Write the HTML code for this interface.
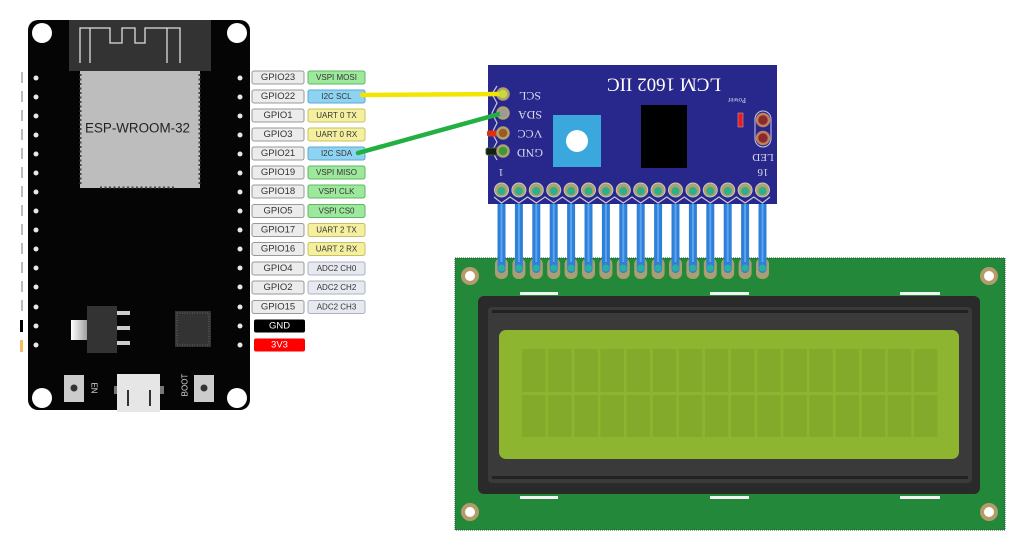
<!DOCTYPE html>
<html><head><meta charset="utf-8"><style>
html,body{margin:0;padding:0;background:#fff;}
svg{display:block;}
text{font-family:"Liberation Sans",sans-serif;}
.g{font-size:9.5px;fill:#333;text-anchor:middle;dominant-baseline:central;}
.f{font-size:8px;fill:#333;text-anchor:middle;dominant-baseline:central;}
.s{font-family:"Liberation Serif",serif;fill:#dcdcec;text-anchor:middle;dominant-baseline:central;}
</style></head><body>
<svg width="1024" height="538" viewBox="0 0 1024 538" xmlns="http://www.w3.org/2000/svg">
<rect width="1024" height="538" fill="#fff"/>

<!-- left truncated label marks -->
<g fill="#bbb">
<rect x="21" y="72" width="2" height="11"/><rect x="21" y="91" width="2" height="11"/><rect x="21" y="110" width="2" height="11"/><rect x="21" y="129" width="2" height="11"/><rect x="21" y="148" width="2" height="11"/><rect x="21" y="167" width="2" height="11"/><rect x="21" y="186" width="2" height="11"/><rect x="21" y="205" width="2" height="11"/><rect x="21" y="224" width="2" height="11"/><rect x="21" y="243" width="2" height="11"/><rect x="21" y="262" width="2" height="11"/><rect x="21" y="281" width="2" height="11"/><rect x="21" y="300" width="2" height="11"/>
</g>
<rect x="20" y="320" width="3" height="12" fill="#000"/>
<rect x="20" y="340" width="3" height="12" fill="#f0c060"/>

<!-- ESP32 board -->
<rect x="28" y="20" width="222" height="390" rx="10" fill="#050505"/>
<rect x="69" y="20" width="142" height="51" fill="#333"/>
<polyline points="80,63 80,28 110,28 110,43 122,43 122,28 135,28 135,43 145,43 145,28 180,28 180,63" fill="none" stroke="#ddd" stroke-width="1.3"/>
<line x1="167" y1="28" x2="167" y2="63" stroke="#ddd" stroke-width="1.3"/>
<line x1="90" y1="28" x2="90" y2="63" stroke="#ddd" stroke-width="1.3"/>
<rect x="80" y="71" width="120" height="117" fill="#bdbdbd"/>
<line x1="80.5" y1="74" x2="80.5" y2="184" stroke="#444" stroke-width="2" stroke-dasharray="2,2.5"/>
<line x1="199.5" y1="74" x2="199.5" y2="184" stroke="#444" stroke-width="2" stroke-dasharray="2,2.5"/>
<line x1="100" y1="187.5" x2="175" y2="187.5" stroke="#444" stroke-width="2" stroke-dasharray="2,2.5"/>
<text x="85" y="128" font-size="13.5" fill="#222" textLength="105" lengthAdjust="spacingAndGlyphs" dominant-baseline="central">ESP-WROOM-32</text>
<circle cx="42" cy="33" r="10" fill="#fff"/>
<circle cx="237" cy="33" r="10" fill="#fff"/>
<circle cx="42" cy="398" r="10" fill="#fff"/>
<circle cx="237" cy="398" r="10" fill="#fff"/>
<g fill="#e8e8e8">
<circle cx="36" cy="78" r="2.5"/><circle cx="36" cy="97" r="2.5"/><circle cx="36" cy="116" r="2.5"/><circle cx="36" cy="135" r="2.5"/><circle cx="36" cy="154" r="2.5"/><circle cx="36" cy="173" r="2.5"/><circle cx="36" cy="192" r="2.5"/><circle cx="36" cy="211" r="2.5"/><circle cx="36" cy="230" r="2.5"/><circle cx="36" cy="249" r="2.5"/><circle cx="36" cy="268" r="2.5"/><circle cx="36" cy="287" r="2.5"/><circle cx="36" cy="307" r="2.5"/><circle cx="36" cy="326" r="2.5"/><circle cx="36" cy="345" r="2.5"/>
<circle cx="240" cy="78" r="2.5"/><circle cx="240" cy="97" r="2.5"/><circle cx="240" cy="116" r="2.5"/><circle cx="240" cy="135" r="2.5"/><circle cx="240" cy="154" r="2.5"/><circle cx="240" cy="173" r="2.5"/><circle cx="240" cy="192" r="2.5"/><circle cx="240" cy="211" r="2.5"/><circle cx="240" cy="230" r="2.5"/><circle cx="240" cy="249" r="2.5"/><circle cx="240" cy="268" r="2.5"/><circle cx="240" cy="287" r="2.5"/><circle cx="240" cy="307" r="2.5"/><circle cx="240" cy="326" r="2.5"/><circle cx="240" cy="345" r="2.5"/>
</g>
<!-- regulator -->
<defs><linearGradient id="tab" x1="0" x2="1"><stop offset="0" stop-color="#fff"/><stop offset="1" stop-color="#999"/></linearGradient></defs>
<rect x="71" y="320" width="17" height="20" fill="url(#tab)"/>
<rect x="87" y="306" width="30" height="47" fill="#333"/>
<rect x="117" y="311" width="13" height="4" fill="#ccc"/>
<rect x="117" y="326" width="13" height="4" fill="#ccc"/>
<rect x="117" y="341" width="13" height="4" fill="#ccc"/>
<!-- chip -->
<rect x="175" y="311" width="36" height="36" fill="#333"/>
<rect x="177" y="313" width="32" height="32" fill="none" stroke="#777" stroke-width="0.8" stroke-dasharray="1,1.5"/>
<!-- EN / USB / BOOT -->
<rect x="64" y="375" width="20" height="27" fill="#ccc"/>
<circle cx="74" cy="388" r="3.5" fill="#333"/>
<text x="94" y="388" font-size="8" fill="#ddd" text-anchor="middle" dominant-baseline="central" transform="rotate(90 94 388)">EN</text>
<rect x="114" y="386" width="4" height="8" fill="#777"/>
<rect x="160" y="386" width="4" height="8" fill="#777"/>
<rect x="117" y="374" width="43" height="38" fill="#e6e6e6"/>
<rect x="127" y="390" width="2" height="16" fill="#333"/>
<rect x="149" y="390" width="2" height="16" fill="#333"/>
<text x="185" y="385" font-size="8" fill="#ddd" text-anchor="middle" dominant-baseline="central" transform="rotate(-90 185 385)">BOOT</text>
<rect x="194" y="375" width="20" height="27" fill="#ccc"/>
<circle cx="204" cy="388" r="3.5" fill="#333"/>

<!-- pin labels -->
<g stroke-width="1">
<rect x="252" y="71" width="52" height="13" rx="2" fill="#ececec" stroke="#999"/><text class="g" x="278" y="77.5">GPIO23</text>
<rect x="308" y="71" width="57" height="13" rx="2" fill="#9ee89e" stroke="#5cb85c"/><text class="f" x="336.5" y="77.5">VSPI MOSI</text>
<rect x="252" y="90" width="52" height="13" rx="2" fill="#ececec" stroke="#999"/><text class="g" x="278" y="96.5">GPIO22</text>
<rect x="308" y="90" width="57" height="13" rx="2" fill="#8ed4f2" stroke="#5aa8d0"/><text class="f" x="336.5" y="96.5">I2C SCL</text>
<rect x="252" y="109" width="52" height="13" rx="2" fill="#ececec" stroke="#999"/><text class="g" x="278" y="115.5">GPIO1</text>
<rect x="308" y="109" width="57" height="13" rx="2" fill="#f4f0a0" stroke="#c8c060"/><text class="f" x="336.5" y="115.5">UART 0 TX</text>
<rect x="252" y="128" width="52" height="13" rx="2" fill="#ececec" stroke="#999"/><text class="g" x="278" y="134.5">GPIO3</text>
<rect x="308" y="128" width="57" height="13" rx="2" fill="#f4f0a0" stroke="#c8c060"/><text class="f" x="336.5" y="134.5">UART 0 RX</text>
<rect x="252" y="147" width="52" height="13" rx="2" fill="#ececec" stroke="#999"/><text class="g" x="278" y="153.5">GPIO21</text>
<rect x="308" y="147" width="57" height="13" rx="2" fill="#8ed4f2" stroke="#5aa8d0"/><text class="f" x="336.5" y="153.5">I2C SDA</text>
<rect x="252" y="166" width="52" height="13" rx="2" fill="#ececec" stroke="#999"/><text class="g" x="278" y="172.5">GPIO19</text>
<rect x="308" y="166" width="57" height="13" rx="2" fill="#9ee89e" stroke="#5cb85c"/><text class="f" x="336.5" y="172.5">VSPI MISO</text>
<rect x="252" y="185" width="52" height="13" rx="2" fill="#ececec" stroke="#999"/><text class="g" x="278" y="191.5">GPIO18</text>
<rect x="308" y="185" width="57" height="13" rx="2" fill="#9ee89e" stroke="#5cb85c"/><text class="f" x="336.5" y="191.5">VSPI CLK</text>
<rect x="252" y="204.5" width="52" height="13" rx="2" fill="#ececec" stroke="#999"/><text class="g" x="278" y="211">GPIO5</text>
<rect x="308" y="204.5" width="57" height="13" rx="2" fill="#9ee89e" stroke="#5cb85c"/><text class="f" x="336.5" y="211">VSPI CS0</text>
<rect x="252" y="223.5" width="52" height="13" rx="2" fill="#ececec" stroke="#999"/><text class="g" x="278" y="230">GPIO17</text>
<rect x="308" y="223.5" width="57" height="13" rx="2" fill="#f4f0a0" stroke="#c8c060"/><text class="f" x="336.5" y="230">UART 2 TX</text>
<rect x="252" y="242.5" width="52" height="13" rx="2" fill="#ececec" stroke="#999"/><text class="g" x="278" y="249">GPIO16</text>
<rect x="308" y="242.5" width="57" height="13" rx="2" fill="#f4f0a0" stroke="#c8c060"/><text class="f" x="336.5" y="249">UART 2 RX</text>
<rect x="252" y="262" width="52" height="13" rx="2" fill="#ececec" stroke="#999"/><text class="g" x="278" y="268.5">GPIO4</text>
<rect x="308" y="262" width="57" height="13" rx="2" fill="#e6eaf0" stroke="#aab2c0"/><text class="f" x="336.5" y="268.5">ADC2 CH0</text>
<rect x="252" y="281" width="52" height="13" rx="2" fill="#ececec" stroke="#999"/><text class="g" x="278" y="287.5">GPIO2</text>
<rect x="308" y="281" width="57" height="13" rx="2" fill="#e6eaf0" stroke="#aab2c0"/><text class="f" x="336.5" y="287.5">ADC2 CH2</text>
<rect x="252" y="300.5" width="52" height="13" rx="2" fill="#ececec" stroke="#999"/><text class="g" x="278" y="307">GPIO15</text>
<rect x="308" y="300.5" width="57" height="13" rx="2" fill="#e6eaf0" stroke="#aab2c0"/><text class="f" x="336.5" y="307">ADC2 CH3</text>
<rect x="254" y="319.5" width="51" height="13" rx="2" fill="#000"/><text class="g" x="279.5" y="326" style="fill:#fff">GND</text>
<rect x="254" y="338.5" width="51" height="13" rx="2" fill="#f00"/><text class="g" x="279.5" y="345" style="fill:#fff">3V3</text>
</g>

<!-- LCD PCB -->
<rect x="455" y="258" width="550" height="272" fill="#24883a"/>
<rect x="455" y="258" width="550" height="272" fill="none" stroke="#1a5a28" stroke-width="1" stroke-dasharray="1,1"/>
<g fill="#b59a6a"><circle cx="470" cy="276" r="9"/><circle cx="989" cy="276" r="9"/><circle cx="470" cy="512" r="9"/><circle cx="989" cy="512" r="9"/></g>
<g fill="#fff"><circle cx="470" cy="276" r="5"/><circle cx="989" cy="276" r="5"/><circle cx="470" cy="512" r="5"/><circle cx="989" cy="512" r="5"/></g>
<g fill="#f2f2f2">
<rect x="520" y="292" width="38" height="3"/><rect x="710" y="292" width="39" height="3"/><rect x="900" y="292" width="40" height="3"/>
<rect x="520" y="496" width="38" height="3"/><rect x="710" y="496" width="39" height="3"/><rect x="900" y="496" width="40" height="3"/>
</g>
<rect x="478" y="296" width="502" height="198" rx="6" fill="#2a2a2a"/>
<rect x="488" y="307" width="484" height="176" rx="4" fill="#3a3a3a"/>
<rect x="492" y="310" width="476" height="3" fill="#222"/>
<rect x="492" y="476" width="476" height="3" fill="#222"/>
<rect x="499" y="330" width="460" height="129" rx="7" fill="#8db530"/>
<g fill="#84aa2c">
<rect x="522" y="349" width="23.5" height="43"/><rect x="548.1" y="349" width="23.5" height="43"/><rect x="574.3" y="349" width="23.5" height="43"/><rect x="600.4" y="349" width="23.5" height="43"/><rect x="626.5" y="349" width="23.5" height="43"/><rect x="652.7" y="349" width="23.5" height="43"/><rect x="678.8" y="349" width="23.5" height="43"/><rect x="704.9" y="349" width="23.5" height="43"/><rect x="731.0" y="349" width="23.5" height="43"/><rect x="757.2" y="349" width="23.5" height="43"/><rect x="783.3" y="349" width="23.5" height="43"/><rect x="809.4" y="349" width="23.5" height="43"/><rect x="835.6" y="349" width="23.5" height="43"/><rect x="861.7" y="349" width="23.5" height="43"/><rect x="887.8" y="349" width="23.5" height="43"/><rect x="914.0" y="349" width="23.5" height="43"/>
<rect x="522" y="395" width="23.5" height="42"/><rect x="548.1" y="395" width="23.5" height="42"/><rect x="574.3" y="395" width="23.5" height="42"/><rect x="600.4" y="395" width="23.5" height="42"/><rect x="626.5" y="395" width="23.5" height="42"/><rect x="652.7" y="395" width="23.5" height="42"/><rect x="678.8" y="395" width="23.5" height="42"/><rect x="704.9" y="395" width="23.5" height="42"/><rect x="731.0" y="395" width="23.5" height="42"/><rect x="757.2" y="395" width="23.5" height="42"/><rect x="783.3" y="395" width="23.5" height="42"/><rect x="809.4" y="395" width="23.5" height="42"/><rect x="835.6" y="395" width="23.5" height="42"/><rect x="861.7" y="395" width="23.5" height="42"/><rect x="887.8" y="395" width="23.5" height="42"/><rect x="914.0" y="395" width="23.5" height="42"/>
</g>

<!-- pin wires -->
<g id="pins">
<g fill="#a8a070">
<rect x="495" y="258" width="13" height="21" rx="6"/><rect x="512.4" y="258" width="13" height="21" rx="6"/><rect x="529.8" y="258" width="13" height="21" rx="6"/><rect x="547.2" y="258" width="13" height="21" rx="6"/><rect x="564.6" y="258" width="13" height="21" rx="6"/><rect x="582" y="258" width="13" height="21" rx="6"/><rect x="599.4" y="258" width="13" height="21" rx="6"/><rect x="616.8" y="258" width="13" height="21" rx="6"/><rect x="634.2" y="258" width="13" height="21" rx="6"/><rect x="651.6" y="258" width="13" height="21" rx="6"/><rect x="669" y="258" width="13" height="21" rx="6"/><rect x="686.4" y="258" width="13" height="21" rx="6"/><rect x="703.8" y="258" width="13" height="21" rx="6"/><rect x="721.2" y="258" width="13" height="21" rx="6"/><rect x="738.6" y="258" width="13" height="21" rx="6"/><rect x="756" y="258" width="13" height="21" rx="6"/>
</g>
<g fill="#2f7fd8">
<rect x="497.5" y="190" width="8" height="83" rx="4"/><rect x="514.9" y="190" width="8" height="83" rx="4"/><rect x="532.3" y="190" width="8" height="83" rx="4"/><rect x="549.7" y="190" width="8" height="83" rx="4"/><rect x="567.1" y="190" width="8" height="83" rx="4"/><rect x="584.5" y="190" width="8" height="83" rx="4"/><rect x="601.9" y="190" width="8" height="83" rx="4"/><rect x="619.3" y="190" width="8" height="83" rx="4"/><rect x="636.7" y="190" width="8" height="83" rx="4"/><rect x="654.1" y="190" width="8" height="83" rx="4"/><rect x="671.5" y="190" width="8" height="83" rx="4"/><rect x="688.9" y="190" width="8" height="83" rx="4"/><rect x="706.3" y="190" width="8" height="83" rx="4"/><rect x="723.7" y="190" width="8" height="83" rx="4"/><rect x="741.1" y="190" width="8" height="83" rx="4"/><rect x="758.5" y="190" width="8" height="83" rx="4"/>
</g>
<g fill="#5aa4ee">
<rect x="500.5" y="200" width="2" height="62"/><rect x="517.9" y="200" width="2" height="62"/><rect x="535.3" y="200" width="2" height="62"/><rect x="552.7" y="200" width="2" height="62"/><rect x="570.1" y="200" width="2" height="62"/><rect x="587.5" y="200" width="2" height="62"/><rect x="604.9" y="200" width="2" height="62"/><rect x="622.3" y="200" width="2" height="62"/><rect x="639.7" y="200" width="2" height="62"/><rect x="657.1" y="200" width="2" height="62"/><rect x="674.5" y="200" width="2" height="62"/><rect x="691.9" y="200" width="2" height="62"/><rect x="709.3" y="200" width="2" height="62"/><rect x="726.7" y="200" width="2" height="62"/><rect x="744.1" y="200" width="2" height="62"/><rect x="761.5" y="200" width="2" height="62"/>
</g>
<g fill="#2bb0a0">
<circle cx="501.5" cy="268" r="3.5"/><circle cx="518.9" cy="268" r="3.5"/><circle cx="536.3" cy="268" r="3.5"/><circle cx="553.7" cy="268" r="3.5"/><circle cx="571.1" cy="268" r="3.5"/><circle cx="588.5" cy="268" r="3.5"/><circle cx="605.9" cy="268" r="3.5"/><circle cx="623.3" cy="268" r="3.5"/><circle cx="640.7" cy="268" r="3.5"/><circle cx="658.1" cy="268" r="3.5"/><circle cx="675.5" cy="268" r="3.5"/><circle cx="692.9" cy="268" r="3.5"/><circle cx="710.3" cy="268" r="3.5"/><circle cx="727.7" cy="268" r="3.5"/><circle cx="745.1" cy="268" r="3.5"/><circle cx="762.5" cy="268" r="3.5"/>
</g>
</g>

<!-- I2C module -->
<path d="M488 65 H777 V204 H770 V190 H495 V204 H488 Z" fill="#28288c"/>
<rect x="488" y="190" width="289" height="14" fill="#28288c"/>
<polyline points="494,197 501.5,203 510,197 518.9,203 527.6,197 536.3,203 545,197 553.7,203 562.4,197 571.1,203 579.8,197 588.5,203 597.2,197 605.9,203 614.6,197 623.3,203 632,197 640.7,203 649.4,197 658.1,203 666.8,197 675.5,203 684.2,197 692.9,203 701.6,197 710.3,203 719,197 727.7,203 736.4,197 745.1,203 753.8,197 762.5,203 770,197" fill="none" stroke="#c8c8d8" stroke-width="1.2"/>
<g fill="#b0a070" stroke="#c8c8c8" stroke-width="1">
<circle cx="501.5" cy="190" r="7"/><circle cx="518.9" cy="190" r="7"/><circle cx="536.3" cy="190" r="7"/><circle cx="553.7" cy="190" r="7"/><circle cx="571.1" cy="190" r="7"/><circle cx="588.5" cy="190" r="7"/><circle cx="605.9" cy="190" r="7"/><circle cx="623.3" cy="190" r="7"/><circle cx="640.7" cy="190" r="7"/><circle cx="658.1" cy="190" r="7"/><circle cx="675.5" cy="190" r="7"/><circle cx="692.9" cy="190" r="7"/><circle cx="710.3" cy="190" r="7"/><circle cx="727.7" cy="190" r="7"/><circle cx="745.1" cy="190" r="7"/><circle cx="762.5" cy="190" r="7"/>
</g>
<g fill="#2bb08a">
<circle cx="501.5" cy="191" r="4"/><circle cx="518.9" cy="191" r="4"/><circle cx="536.3" cy="191" r="4"/><circle cx="553.7" cy="191" r="4"/><circle cx="571.1" cy="191" r="4"/><circle cx="588.5" cy="191" r="4"/><circle cx="605.9" cy="191" r="4"/><circle cx="623.3" cy="191" r="4"/><circle cx="640.7" cy="191" r="4"/><circle cx="658.1" cy="191" r="4"/><circle cx="675.5" cy="191" r="4"/><circle cx="692.9" cy="191" r="4"/><circle cx="710.3" cy="191" r="4"/><circle cx="727.7" cy="191" r="4"/><circle cx="745.1" cy="191" r="4"/><circle cx="762.5" cy="191" r="4"/>
</g>
<!-- left header -->
<polyline points="497,86 492,94 497,103 492,113 497,123 492,133 497,142 492,151 497,160" fill="none" stroke="#c8c8d8" stroke-width="1.2"/>
<rect x="487" y="130.5" width="16" height="6" rx="2" fill="#e03010"/>
<rect x="486" y="148" width="17" height="7" rx="2" fill="#1a1a1a" stroke="#2a6a2a" stroke-width="1"/>
<g stroke="#b0a070" stroke-width="2.5">
<circle cx="503" cy="94" r="5.5" fill="#b8d040"/>
<circle cx="503" cy="113" r="5.5" fill="#9a9a9a"/>
<circle cx="503" cy="133" r="5.5" fill="#9a5a20"/>
<circle cx="503" cy="151" r="5.5" fill="#3a9a3a"/>
</g>
<text class="s" x="530" y="96" font-size="12" transform="rotate(180 530 96)">SCL</text>
<text class="s" x="530" y="115" font-size="12" transform="rotate(180 530 115)">SDA</text>
<text class="s" x="530" y="134" font-size="12" transform="rotate(180 530 134)">VCC</text>
<text class="s" x="530" y="153" font-size="12" transform="rotate(180 530 153)">GND</text>
<text class="s" x="664" y="84" font-size="19" style="fill:#fff" transform="rotate(180 664 84)">LCM 1602 IIC</text>
<text class="s" x="737" y="100" font-size="7" transform="rotate(180 737 100)">Power</text>
<rect x="738" y="113" width="5" height="14" fill="#e02020" stroke="#f0a0a0" stroke-width="0.5"/>
<rect x="755" y="111" width="16" height="36" rx="8" fill="none" stroke="#c8c8d8" stroke-width="1"/>
<circle cx="763" cy="120" r="6" fill="#8a2a2a" stroke="#c08060" stroke-width="2.5"/>
<circle cx="763" cy="138" r="6" fill="#8a2a2a" stroke="#c08060" stroke-width="2.5"/>
<text class="s" x="763" y="157" font-size="11" transform="rotate(180 763 157)">LED</text>
<text class="s" x="763" y="172" font-size="11" transform="rotate(180 763 172)">16</text>
<text class="s" x="501" y="172" font-size="11" transform="rotate(180 501 172)">1</text>
<rect x="553" y="115" width="48" height="52" fill="#3aa8dc"/>
<circle cx="577" cy="141" r="11" fill="#fff"/>
<rect x="641" y="105" width="46" height="63" fill="#000"/>

<!-- wires -->
<line x1="362" y1="95" x2="503" y2="94" stroke="#f2e600" stroke-width="4.5" stroke-linecap="round"/>
<line x1="358" y1="153" x2="503" y2="113" stroke="#22b040" stroke-width="4.5" stroke-linecap="round"/>
<circle cx="503" cy="94" r="4" fill="#c8d840"/>
<circle cx="503" cy="113" r="3.5" fill="#9a9a9a"/>
</svg>
</body></html>
